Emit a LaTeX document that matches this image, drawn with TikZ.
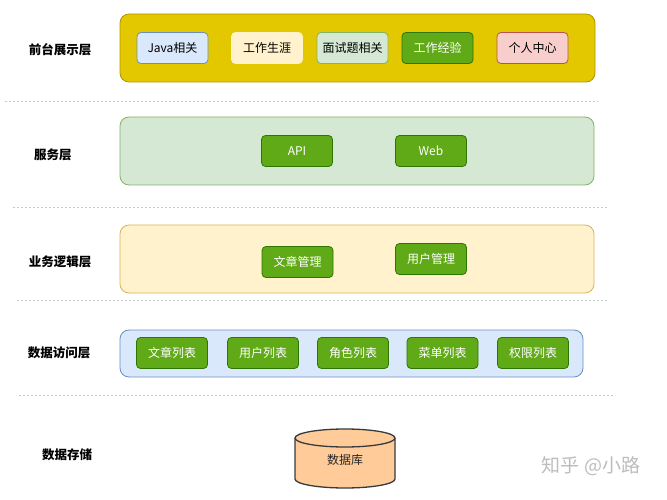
\documentclass[tikz,border=0pt]{standalone}
\usepackage{fontspec}
\setmainfont{Noto Sans CJK SC}
\begin{document}
\begin{tikzpicture}[x=1pt,y=-1pt]
\definecolor{yelC}{HTML}{E3C800}
\definecolor{yelB}{HTML}{B09500}
\definecolor{bluF}{HTML}{DAE8FC}
\definecolor{bluB}{HTML}{6C8EBF}
\definecolor{ylwF}{HTML}{FFF2CC}
\definecolor{ylwB}{HTML}{D6B656}
\definecolor{grnF}{HTML}{D5E8D4}
\definecolor{grnB}{HTML}{82B366}
\definecolor{dgF}{HTML}{60A917}
\definecolor{dgB}{HTML}{2D7600}
\definecolor{redF}{HTML}{F8CECC}
\definecolor{redB}{HTML}{B85450}
\definecolor{orF}{HTML}{FFCC99}
\definecolor{orB}{HTML}{36393D}
\definecolor{sepC}{HTML}{C8C8C8}
\definecolor{wmC}{HTML}{BDBDBD}
\tikzset{
  layer/.style={rectangle, rounded corners=9pt, line width=0.8pt, inner sep=0pt},
  box/.style={rectangle, rounded corners=4pt, line width=0.8pt, minimum width=71pt, minimum height=31pt, inner sep=0pt, font=\fontsize{12}{14}\selectfont},
  gbox/.style={box, fill=dgF, draw=dgB, text=white},
  lbl/.style={font=\fontsize{12.5}{14}\selectfont\bfseries, text=black},
  sep/.style={draw=sepC, line width=1pt, dash pattern=on 2pt off 2pt},
}
\useasboundingbox (0,0) rectangle (667,500);
\fill[white] (0,0) rectangle (667,500);

% separators
\coordinate (s1a) at (5,102);  \coordinate (s1b) at (598,102);
\coordinate (s2a) at (13,207); \coordinate (s2b) at (607,207);
\coordinate (s3a) at (17,300); \coordinate (s3b) at (609,300);
\coordinate (s4a) at (19,395); \coordinate (s4b) at (613,395);
\draw[sep] (s1a) -- (s1b);
\draw[sep] (s2a) -- (s2b);
\draw[sep] (s3a) -- (s3b);
\draw[sep] (s4a) -- (s4b);

% layer labels
\node[lbl] (t1) at (60,50) {前台展示层};
\node[lbl] (t2) at (53,155) {服务层};
\node[lbl] (t3) at (60,262) {业务逻辑层};
\node[lbl] (t4) at (59,353) {数据访问层};
\node[lbl] (t5) at (67,455) {数据存储};

% layer containers
\node[layer, fill=yelC, draw=yelB, minimum width=475pt, minimum height=68pt] (L1) at (357.5,48) {};
\node[layer, fill=grnF, draw=grnB, minimum width=474pt, minimum height=68pt] (L2) at (357,151) {};
\node[layer, fill=ylwF, draw=ylwB, minimum width=474pt, minimum height=68pt] (L3) at (357,259) {};
\node[layer, fill=bluF, draw=bluB, minimum width=463pt, minimum height=47pt] (L4) at (351.5,353.5) {};

% front layer
\node[box, fill=bluF, draw=bluB] (java) at (172.5,48) {Java相关};
\node[box, fill=ylwF, draw=ylwF] (career) at (267,48) {工作生涯};
\node[box, fill=grnF, draw=grnB] (interview) at (352.5,48) {面试题相关};
\node[gbox] (exp) at (437.5,48) {工作经验};
\node[box, fill=redF, draw=redB] (personal) at (532.5,48) {个人中心};

% service layer
\node[gbox] (api) at (297,151) {API};
\node[gbox] (web) at (431,151) {Web};

% business layer
\node[gbox] (artm) at (297.5,262) {文章管理};
\node[gbox] (userm) at (431,259) {用户管理};

% data access layer
\node[gbox] (artl) at (172,353) {文章列表};
\node[gbox] (userl) at (263,353) {用户列表};
\node[gbox] (rolel) at (353,353) {角色列表};
\node[gbox] (menul) at (442.5,353) {菜单列表};
\node[gbox] (perml) at (533,353) {权限列表};

% database cylinder
\coordinate (cylTL) at (295,438);
\coordinate (cylBL) at (295,479);
\coordinate (cylTR) at (395,438);
\filldraw[fill=orF, draw=orB, line width=1.3pt]
  (cylTL) -- (cylBL) arc (180:360:50pt and 9pt) -- (cylTR) arc (0:180:50pt and 9pt) -- cycle;
\draw[orB, line width=1.3pt] (cylTL) arc (180:360:50pt and 9pt);
\node[font=\fontsize{12}{14}\selectfont, text=black!85] (db) at (345,460) {数据库};

% watermark
\node[font=\fontsize{19}{22}\selectfont, text=wmC] (wm) at (591,466) {知乎 @小路};
\end{tikzpicture}
\end{document}
